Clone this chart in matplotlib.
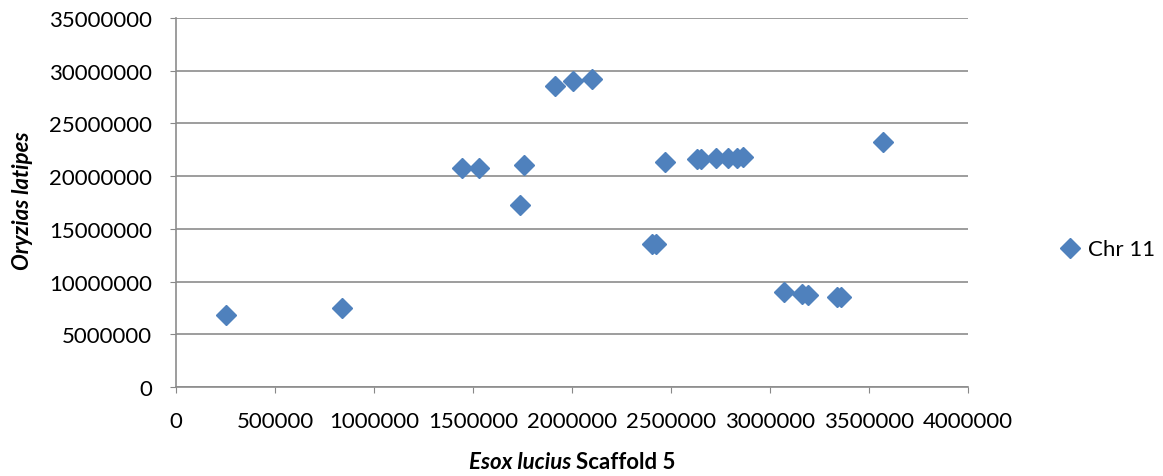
import matplotlib.pyplot as plt
from matplotlib.lines import Line2D

# Esox lucius scaffold 5 position vs Oryzias latipes chr 11 position
esox_pos = [252000, 838000, 1444000, 1530000, 1758000, 1737000, 1914000, 2005000,
            2100000, 2404000, 2424000, 2470000, 2630000, 2650000, 2727000, 2790000,
            2833000, 2864000, 3070000, 3160000, 3190000, 3340000, 3360000, 3570000]
oryzias_pos = [6820000, 7490000, 20760000, 20760000, 21040000, 17250000, 28600000, 29000000,
               29200000, 13600000, 13600000, 21300000, 21600000, 21600000, 21700000, 21700000,
               21750000, 21800000, 9000000, 8800000, 8750000, 8500000, 8500000, 23200000]
series_name = "Chr 11"

plt.rcParams['font.family'] = ['Lato', 'DejaVu Sans']
blue = "#4F81BD"

fig = plt.figure(figsize=(11.63, 4.77), dpi=100)
ax = fig.add_axes([0.1513, 0.1866, 0.681, 0.7734])

ax.plot(esox_pos, oryzias_pos, linestyle="none", marker="D", markersize=10.5,
        color=blue, markeredgecolor=blue)

ax.set_xlim(0, 4000000)
ax.set_ylim(0, 35000000)
ax.set_xticks(range(0, 4000001, 500000))
ax.set_yticks(range(0, 35000001, 5000000))
ax.ticklabel_format(style="plain")
ax.tick_params(labelsize=16, colors="#888888", labelcolor="black", length=4)
ax.tick_params(axis="y", pad=13)
ax.tick_params(axis="x", pad=13)

ax.yaxis.grid(True, color="#8c8c8c", linewidth=1.2)
ax.set_axisbelow(True)
for s in ["top", "right"]:
    ax.spines[s].set_visible(False)
for s in ["left", "bottom"]:
    ax.spines[s].set_color("#8c8c8c")
    ax.spines[s].set_linewidth(1.2)

fig.text(0.019, 0.58, "Oryzias latipes", fontsize=16, fontweight="bold", style="italic",
         rotation=90, ha="center", va="center")

# x label is mixed italic / upright, so two pieces
fig.text(0.4915, 0.03, "Esox lucius", fontsize=16, fontweight="bold", style="italic",
         ha="right", va="center")
fig.text(0.4950, 0.03, "Scaffold 5", fontsize=16, fontweight="bold", ha="left", va="center")

handle = Line2D([], [], linestyle="none", marker="D", markersize=10.5, color=blue)
fig.legend([handle], [series_name], loc="center left", bbox_to_anchor=(0.895, 0.475),
           frameon=False, fontsize=16, handlelength=0.8, handletextpad=0.4)

fig.savefig("out.png", dpi=100)
